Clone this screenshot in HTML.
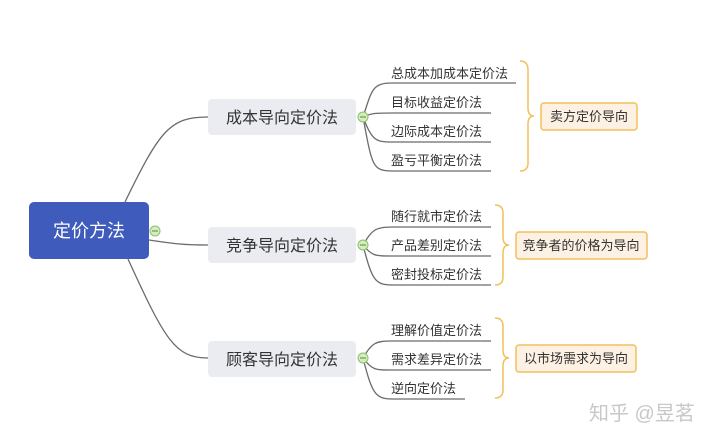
<!DOCTYPE html>
<html><head><meta charset="utf-8"><style>
html,body{margin:0;padding:0;background:#fff;}
svg{display:block;font-family:"Liberation Sans","Noto Sans CJK SC",sans-serif;}
</style></head><body>
<svg width="720" height="445" viewBox="0 0 720 445">
<g fill="none" stroke="#6b6b6b" stroke-width="1.3">
<path d="M125 202 C160 130,170 117,208 117"/>
<path d="M149 240 C175 244,185 245,208 245"/>
<path d="M128 259 C165 340,175 358,208 358"/>
<path d="M363 117 C372 90,372 83,392 83 L516 83"/>
<path d="M363 117 C372 113,375 113,392 113 L491 113"/>
<path d="M363 117 C372 140,375 142,392 142 L491 142"/>
<path d="M363 117 C372 165,372 171,392 171 L491 171"/>
<path d="M363 245 C372 230,375 227,392 227 L491 227"/>
<path d="M363 245 C372 256,375 256,392 256 L491 256"/>
<path d="M363 245 C372 280,375 285,392 285 L491 285"/>
<path d="M363 358 C372 343,375 341,392 341 L491 341"/>
<path d="M363 358 C372 370,375 370,392 370 L491 370"/>
<path d="M363 358 C372 393,375 399,392 399 L465 399"/>
</g>
<g fill="none" stroke="#f2c05a" stroke-width="1.5">
<path d="M520 61 Q528 61,528 70 L528 108 Q528 116,534 116 Q528 116,528 124 L528 163 Q528 171,520 171"/>
<path d="M495 205 Q503 205,503 213 L503 237 Q503 245,509 245 Q503 245,503 253 L503 277 Q503 285,495 285"/>
<path d="M495 318 Q503 318,503 326 L503 350 Q503 358,509 358 Q503 358,503 366 L503 390 Q503 398,495 398"/>
</g>
<rect x="29" y="202" width="120" height="57" rx="5" fill="#3f5cbd"/>
<text x="89" y="237" font-size="18" fill="#fff" text-anchor="middle">定价方法</text>
<g fill="#ebecf2">
<rect x="208" y="99" width="148" height="36" rx="4"/>
<rect x="208" y="227" width="148" height="36" rx="4"/>
<rect x="208" y="341" width="148" height="36" rx="4"/>
</g>
<g font-size="16" fill="#333" text-anchor="middle">
<text x="282" y="123">成本导向定价法</text>
<text x="282" y="251">竞争导向定价法</text>
<text x="282" y="365">顾客导向定价法</text>
</g>
<g fill="#d4ecc0" stroke="#8cc06a" stroke-width="1">
<circle cx="155" cy="231" r="5"/><circle cx="363" cy="117" r="5"/>
<circle cx="363" cy="245" r="5"/><circle cx="363" cy="358" r="5"/>
</g>
<g stroke="#5a8a3a" stroke-width="1">
<path d="M152 231h6M360 117h6M360 245h6M360 358h6"/>
</g>
<g font-size="13" fill="#333">
<text x="391" y="78">总成本加成本定价法</text>
<text x="391" y="107">目标收益定价法</text>
<text x="391" y="136">边际成本定价法</text>
<text x="391" y="165">盈亏平衡定价法</text>
<text x="391" y="221">随行就市定价法</text>
<text x="391" y="250">产品差别定价法</text>
<text x="391" y="279">密封投标定价法</text>
<text x="391" y="335">理解价值定价法</text>
<text x="391" y="364">需求差异定价法</text>
<text x="391" y="393">逆向定价法</text>
</g>
<g fill="#fdf1e3" stroke="#f2c05a" stroke-width="1.5">
<rect x="541" y="103" width="96" height="27" rx="3"/>
<rect x="516" y="232" width="131" height="27" rx="3"/>
<rect x="516" y="345" width="120" height="27" rx="3"/>
</g>
<g font-size="13" fill="#333" text-anchor="middle">
<text x="589" y="121">卖方定价导向</text>
<text x="581" y="250">竞争者的价格为导向</text>
<text x="576" y="363">以市场需求为导向</text>
</g>
<text x="589" y="420" font-size="20" fill="#c8c8c8">知乎 @昱茗</text>
</svg>
</body></html>
